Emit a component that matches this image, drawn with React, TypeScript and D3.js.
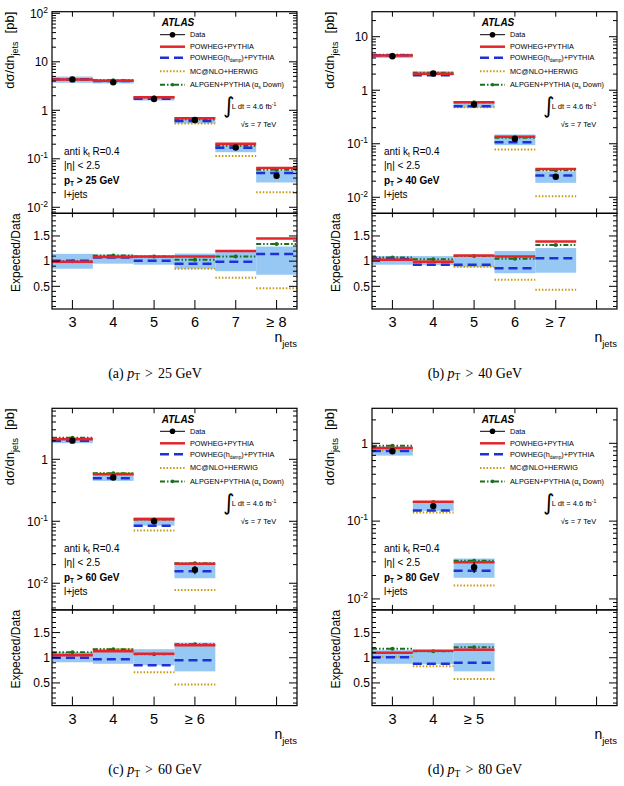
import React, { useRef, useEffect } from "react";
import * as d3 from "d3";

const SANS = "'Liberation Sans', Arial, Helvetica, sans-serif";
const SERIF = "'Liberation Serif', 'Times New Roman', serif";
const BAND = "#97c8f4";

// jet multiplicity bin centres (last filled bin is inclusive)
const bins = [3, 4, 5, 6, 7, 8];

// ---- pT > 25 GeV
const labelsA = ["3", "4", "5", "6", "7", "≥ 8"];
const dataA = [4.34, 3.77, 1.71, 0.63, 0.171, 0.0445];
const statA = [0.01, 0.01, 0.015, 0.025, 0.05, 0.12];
const bandLoA = [0.85, 0.95, 0.93, 0.85, 0.8, 0.73];
const bandHiA = [1.145, 1.13, 1.1, 1.15, 1.21, 1.29];
const powhegA = [0.99, 1.08, 1.09, 1.09, 1.2, 1.45];
const hdampA = [1.01, 1.07, 1.01, 0.95, 0.99, 1.14];
const mcnloA = [0.98, 1.1, 1.08, 0.85, 0.67, 0.46];
const alpgenA = [1.0, 1.11, 1.09, 1.03, 1.09, 1.34];

// ---- pT > 40 GeV
const labelsB = ["3", "4", "5", "6", "≥ 7"];
const dataB = [4.31, 2.05, 0.54, 0.124, 0.0242];
const statB = [0.01, 0.012, 0.02, 0.04, 0.09];
const bandLoB = [0.93, 0.92, 0.88, 0.76, 0.77];
const bandHiB = [1.1, 1.1, 1.12, 1.2, 1.26];
const powhegB = [1.03, 0.99, 1.11, 1.09, 1.39];
const hdampB = [1.04, 0.93, 0.93, 0.86, 1.06];
const mcnloB = [1.05, 1.0, 0.89, 0.63, 0.43];
const alpgenB = [1.07, 1.04, 1.1, 1.05, 1.32];

// ---- pT > 60 GeV
const labelsC = ["3", "4", "5", "≥ 6"];
const dataC = [2.0, 0.51, 0.1, 0.0165];
const statC = [0.012, 0.02, 0.04, 0.15];
const bandLoC = [0.91, 0.88, 0.85, 0.73];
const bandHiC = [1.11, 1.17, 1.17, 1.3];
const powhegC = [1.05, 1.13, 1.08, 1.25];
const hdampC = [1.0, 0.97, 0.85, 0.95];
const mcnloC = [1.08, 1.17, 0.71, 0.47];
const alpgenC = [1.11, 1.17, 1.07, 1.27];

// ---- pT > 80 GeV
const labelsD = ["3", "4", "≥ 5"];
const dataD = [0.79, 0.156, 0.0256];
const statD = [0.02, 0.04, 0.16];
const bandLoD = [0.88, 0.87, 0.73];
const bandHiD = [1.15, 1.13, 1.29];
const powhegD = [1.1, 1.14, 1.16];
const hdampD = [1.01, 0.88, 0.9];
const mcnloD = [1.02, 0.83, 0.58];
const alpgenD = [1.18, 1.13, 1.21];

interface PanelSpec {
  tag: string;
  cut: string;
  x0: number;
  y0: number;
  labels: string[];
  data: number[];
  stat: number[];
  bandLo: number[];
  bandHi: number[];
  powheg: number[];
  hdamp: number[];
  mcnlo: number[];
  alpgen: number[];
  logMin: number;
  logMax: number;
}

const panels: PanelSpec[] = [
  { tag: "(a)", cut: "25", x0: 52, y0: 11.7, labels: labelsA, data: dataA, stat: statA, bandLo: bandLoA, bandHi: bandHiA,
    powheg: powhegA, hdamp: hdampA, mcnlo: mcnloA, alpgen: alpgenA, logMin: -2.124, logMax: 2.033 },
  { tag: "(b)", cut: "40", x0: 372, y0: 11.7, labels: labelsB, data: dataB, stat: statB, bandLo: bandLoB, bandHi: bandHiB,
    powheg: powhegB, hdamp: hdampB, mcnlo: mcnloB, alpgen: alpgenB, logMin: -2.299, logMax: 1.467 },
  { tag: "(c)", cut: "60", x0: 52, y0: 408.3, labels: labelsC, data: dataC, stat: statC, bandLo: bandLoC, bandHi: bandHiC,
    powheg: powhegC, hdamp: hdampC, mcnlo: mcnloC, alpgen: alpgenC, logMin: -2.43, logMax: 0.823 },
  { tag: "(d)", cut: "80", x0: 372, y0: 408.3, labels: labelsD, data: dataD, stat: statD, bandLo: bandLoD, bandHi: bandHiD,
    powheg: powhegD, hdamp: hdampD, mcnlo: mcnloD, alpgen: alpgenD, logMin: -2.141, logMax: 0.45 },
];

type ModelKey = "powheg" | "hdamp" | "mcnlo" | "alpgen";

// drawing order: bottom first
const models: { key: ModelKey; color: string; width: number; dash: string | null }[] = [
  { key: "mcnlo", color: "#c99a0e", width: 2, dash: "1.5,1.8" },
  { key: "alpgen", color: "#1b6f1b", width: 2, dash: "5,2,1.5,2,1.5,2" },
  { key: "hdamp", color: "#1f30d8", width: 2.5, dash: "9,5" },
  { key: "powheg", color: "#e3252b", width: 2.5, dash: null },
];

const W = 245;
const H1 = 201.6;
const H2 = 95.7;

function drawPanel(svg: any, p: PanelSpec) {
  const g = svg.append("g")
    .attr("transform", `translate(${p.x0},${p.y0})`)
    .attr("font-family", SANS);

  const x = d3.scaleLinear().domain([2.5, 8.5]).range([0, W]);
  const yU = d3.scaleLog().domain([Math.pow(10, p.logMin), Math.pow(10, p.logMax)]).range([H1, 0]);
  const yR = d3.scaleLinear().domain([0.05, 1.95]).range([H1 + H2, H1]);
  const idx = d3.range(p.data.length);
  const bw = x(1) - x(0);

  // total uncertainty band
  g.append("g").selectAll("rect").data(idx).join("rect")
    .attr("x", (i: number) => x(bins[i] - 0.5)).attr("width", bw)
    .attr("y", (i: number) => yU(p.data[i] * p.bandHi[i]))
    .attr("height", (i: number) => yU(p.data[i] * p.bandLo[i]) - yU(p.data[i] * p.bandHi[i]))
    .attr("fill", BAND);
  g.append("g").selectAll("rect").data(idx).join("rect")
    .attr("x", (i: number) => x(bins[i] - 0.5)).attr("width", bw)
    .attr("y", (i: number) => yR(p.bandHi[i]))
    .attr("height", (i: number) => yR(p.bandLo[i]) - yR(p.bandHi[i]))
    .attr("fill", BAND);

  // generator predictions, upper = data x ratio
  models.forEach((m) => {
    const r = p[m.key];
    const yUp = (i: number) => yU(p.data[i] * r[i]);
    const yLo = (i: number) => yR(r[i]);
    [yUp, yLo].forEach((yf) => {
      g.append("g").selectAll("line").data(idx).join("line")
        .attr("x1", (i: number) => x(bins[i] - 0.5)).attr("x2", (i: number) => x(bins[i] + 0.5))
        .attr("y1", yf).attr("y2", yf)
        .attr("stroke", m.color).attr("stroke-width", m.width)
        .attr("stroke-dasharray", m.dash);
      if (m.key === "alpgen") {
        g.append("g").selectAll("circle").data(idx).join("circle")
          .attr("cx", (i: number) => x(bins[i])).attr("cy", yf).attr("r", 2)
          .attr("fill", m.color);
      }
    });
  });

  // data points
  g.append("g").selectAll("line").data(idx).join("line")
    .attr("x1", (i: number) => x(bins[i])).attr("x2", (i: number) => x(bins[i]))
    .attr("y1", (i: number) => yU(p.data[i] * (1 + p.stat[i])))
    .attr("y2", (i: number) => yU(p.data[i] * (1 - p.stat[i])))
    .attr("stroke", "#000").attr("stroke-width", 1.2);
  g.append("g").selectAll("circle").data(idx).join("circle")
    .attr("cx", (i: number) => x(bins[i])).attr("cy", (i: number) => yU(p.data[i]))
    .attr("r", 3.2).attr("fill", "#000");

  // frames
  g.append("rect").attr("width", W).attr("height", H1)
    .attr("fill", "none").attr("stroke", "#000").attr("stroke-width", 1.2);
  g.append("rect").attr("y", H1).attr("width", W).attr("height", H2)
    .attr("fill", "none").attr("stroke", "#000").attr("stroke-width", 1.2);

  const tick = (x1: number, y1: number, x2: number, y2: number) =>
    g.append("line").attr("x1", x1).attr("y1", y1).attr("x2", x2).attr("y2", y2)
      .attr("stroke", "#000").attr("stroke-width", 1);

  // x ticks on every frame edge
  bins.forEach((b) => {
    const xb = x(b);
    tick(xb, 0, xb, 5);
    tick(xb, H1, xb, H1 - 5);
    tick(xb, H1, xb, H1 + 4);
    tick(xb, H1 + H2, xb, H1 + H2 - 9);
  });

  // log y ticks
  yU.ticks().forEach((v: number) => {
    const yy = yU(v);
    if (yy < 0 || yy > H1) return;
    const lg = Math.log10(v);
    const major = Math.abs(lg - Math.round(lg)) < 1e-6;
    const len = major ? 8 : 4;
    tick(0, yy, len, yy);
    tick(W, yy, W - len, yy);
    if (major) {
      const k = Math.round(lg);
      const t = g.append("text").attr("x", -4).attr("y", yy + 4.3)
        .attr("text-anchor", "end").attr("font-size", 12);
      if (k === 0) t.text("1");
      else if (k === 1) t.text("10");
      else {
        t.append("tspan").text("10");
        t.append("tspan").attr("dy", -5).attr("font-size", 8.5).text(String(k));
      }
    }
  });

  // ratio ticks
  d3.range(1, 20).forEach((k: number) => {
    const v = k / 10;
    const yy = yR(v);
    const major = k % 5 === 0;
    const len = major ? 8 : 4;
    tick(0, yy, len, yy);
    tick(W, yy, W - len, yy);
    if (major) {
      g.append("text").attr("x", -2).attr("y", yy + 4.3)
        .attr("text-anchor", "end").attr("font-size", 12)
        .text(k === 10 ? "1" : String(v));
    }
  });

  // x tick labels
  g.append("g").selectAll("text").data(p.labels).join("text")
    .attr("x", (_d: string, i: number) => x(bins[i]))
    .attr("y", H1 + H2 + 18)
    .attr("text-anchor", "middle").attr("font-size", 14.5)
    .text((d: string) => d);

  // axis titles
  const xt = g.append("text").attr("x", W).attr("y", H1 + H2 + 33.5)
    .attr("text-anchor", "end").attr("font-size", 14);
  xt.append("tspan").text("n");
  xt.append("tspan").attr("dy", 4.5).attr("font-size", 9.5).text("jets");

  const yt = g.append("text").attr("transform", "translate(-38.5,0) rotate(-90)")
    .attr("text-anchor", "end").attr("font-size", 13);
  yt.append("tspan").text("dσ/dn");
  yt.append("tspan").attr("dy", 4).attr("font-size", 9).text("jets");
  yt.append("tspan").attr("dy", -4).attr("dx", 8).text("[pb]");

  g.append("text").attr("transform", `translate(-32,${H1}) rotate(-90)`)
    .attr("text-anchor", "end").attr("font-size", 12)
    .text("Expected/Data");

  // legend
  g.append("text").attr("x", 109.7).attr("y", 14.8)
    .attr("font-size", 10).attr("font-weight", "bold").attr("font-style", "italic")
    .text("ATLAS");

  const lx1 = 108, lx2 = 133, tx = 138;
  const legY = [23, 35, 46, 59.6, 73.1];
  const legFs = 7.3;
  tick(lx1, legY[0], lx2, legY[0]);
  g.append("circle").attr("cx", (lx1 + lx2) / 2).attr("cy", legY[0]).attr("r", 2.8).attr("fill", "#000");
  g.append("text").attr("x", tx).attr("y", legY[0] + 2.6).attr("font-size", legFs).text("Data");

  const legOrder: ModelKey[] = ["powheg", "hdamp", "mcnlo", "alpgen"];
  legOrder.forEach((key, j) => {
    const m = models.find((mm) => mm.key === key)!;
    const yy = legY[j + 1];
    g.append("line").attr("x1", lx1).attr("x2", lx2).attr("y1", yy).attr("y2", yy)
      .attr("stroke", m.color).attr("stroke-width", m.width).attr("stroke-dasharray", m.dash);
    if (key === "alpgen") {
      g.append("circle").attr("cx", (lx1 + lx2) / 2).attr("cy", yy).attr("r", 1.8).attr("fill", m.color);
    }
    const t = g.append("text").attr("x", tx).attr("y", yy + 2.6).attr("font-size", legFs);
    if (key === "powheg") t.text("POWHEG+PYTHIA");
    if (key === "mcnlo") t.text("MC@NLO+HERWIG");
    if (key === "hdamp") {
      t.append("tspan").text("POWHEG(h");
      t.append("tspan").attr("dy", 2).attr("font-size", 4.6).text("damp");
      t.append("tspan").attr("dy", -2).text(")+PYTHIA");
    }
    if (key === "alpgen") {
      t.append("tspan").text("ALPGEN+PYTHIA (α");
      t.append("tspan").attr("dy", 2).attr("font-size", 4.6).text("s");
      t.append("tspan").attr("dy", -2).text(" Down)");
    }
  });

  g.append("text").attr("x", 171).attr("y", 101.5).attr("font-size", 22)
    .attr("font-family", "'DejaVu Sans', sans-serif").text("∫");
  const lum = g.append("text").attr("x", 179.7).attr("y", 97.8).attr("font-size", 7.6);
  lum.append("tspan").text("L dt = 4.6 fb");
  lum.append("tspan").attr("dy", -3).attr("font-size", 5).text("-1");
  g.append("text").attr("x", 188.7).attr("y", 115.8).attr("font-size", 7.5).text("√s = 7 TeV");

  // selection text
  const sx = 12;
  const kt = g.append("text").attr("x", sx).attr("y", 143.3).attr("font-size", 10);
  kt.append("tspan").text("anti k");
  kt.append("tspan").attr("dy", 2.5).attr("font-size", 6.5).text("t");
  kt.append("tspan").attr("dy", -2.5).text(" R=0.4");
  g.append("text").attr("x", sx).attr("y", 157.3).attr("font-size", 10).text("|η| < 2.5");
  const pt = g.append("text").attr("x", sx).attr("y", 172.3).attr("font-size", 10).attr("font-weight", "bold");
  pt.append("tspan").text("p");
  pt.append("tspan").attr("dy", 2.5).attr("font-size", 6.5).text("T");
  pt.append("tspan").attr("dy", -2.5).text(` > ${p.cut} GeV`);
  g.append("text").attr("x", sx).attr("y", 186.8).attr("font-size", 10).text("l+jets");

  // caption
  const cap = g.append("text").attr("x", 103).attr("y", 366)
    .attr("text-anchor", "middle").attr("font-family", SERIF).attr("font-size", 14);
  cap.append("tspan").text(`${p.tag} `);
  cap.append("tspan").attr("font-style", "italic").text("p");
  cap.append("tspan").attr("dy", 2.5).attr("font-size", 9.5).text("T");
  cap.append("tspan").attr("dy", -2.5).attr("dx", 5).text(">");
  cap.append("tspan").attr("dx", 5).text(`${p.cut} GeV`);
}

export default function App() {
  const svgRef = useRef<SVGSVGElement>(null);

  useEffect(() => {
    const svg = d3.select(svgRef.current);
    svg.selectAll("*").remove();
    panels.forEach((p) => drawPanel(svg, p));
  }, []);

  return (
    <svg
      ref={svgRef}
      width={624}
      height={786}
      style={{ position: "absolute", left: 0, top: 0, background: "#fff" }}
    />
  );
}
